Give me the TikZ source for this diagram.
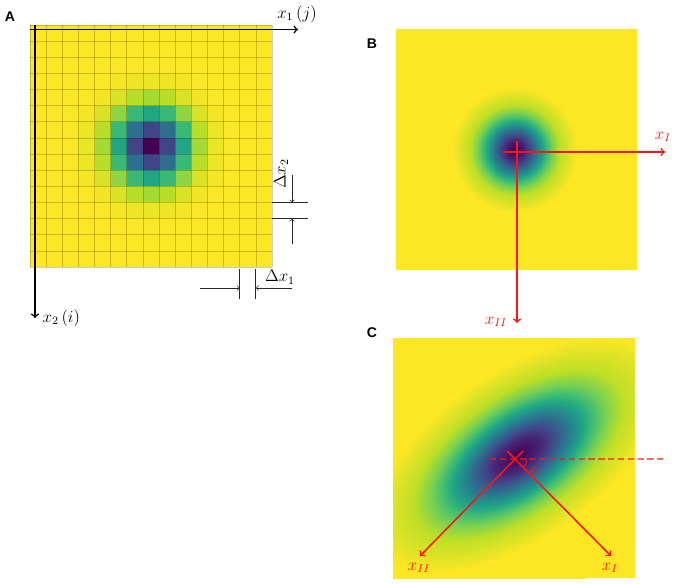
\documentclass[tikz,border=0pt]{standalone}
\usepackage{fontspec}
\usepackage{amsmath}
\usepackage{tikz}
\usetikzlibrary{positioning}
\newfontfamily\panelfont{Liberation Sans}
\definecolor{vir0}{HTML}{440154}
\definecolor{vir1}{HTML}{482475}
\definecolor{vir2}{HTML}{414487}
\definecolor{vir3}{HTML}{355F8D}
\definecolor{vir4}{HTML}{2A788E}
\definecolor{vir5}{HTML}{21918C}
\definecolor{vir6}{HTML}{22A884}
\definecolor{vir7}{HTML}{44BF70}
\definecolor{vir8}{HTML}{7AD151}
\definecolor{vir9}{HTML}{BDDF26}
\definecolor{vir10}{HTML}{FDE725}
\definecolor{axred}{HTML}{FF1414}
\pgfdeclareradialshading{blob}{\pgfpoint{0bp}{0bp}}{color(0bp)=(vir0); color(2.30bp)=(vir1); color(3.34bp)=(vir2); color(4.22bp)=(vir3); color(5.05bp)=(vir4); color(5.89bp)=(vir5); color(6.77bp)=(vir6); color(7.76bp)=(vir7); color(8.97bp)=(vir8); color(10.73bp)=(vir9); color(15bp)=(vir10); color(25bp)=(vir10); color(50bp)=(vir10)}
\tikzstyle{panel} = [font=\panelfont\bfseries, inner sep=0pt]
\tikzstyle{lbl} = [font=\large, inner sep=1pt]
\tikzstyle{redlbl} = [lbl, text=axred]
\tikzstyle{axis} = [->, line width=1.1pt]
\tikzstyle{redaxis} = [->, line width=1.1pt, axred]
\tikzstyle{dim} = [->, line width=0.5pt, black!85]
\tikzstyle{dimline} = [line width=0.5pt, black!85]
\tikzstyle{gridline} = [draw=black, opacity=0.2, line width=0.5pt]

\begin{document}
\begin{tikzpicture}[x=0.25mm, y=-0.25mm, >=to]
	\useasboundingbox (0,0) rectangle (677,583);

	% A: sampled image
	\foreach \i in {0,...,14}{
		\foreach \j in {0,...,14}{
			\pgfmathsetmacro\tv{10*(1-exp(-((\i-7)^2+(\j-7)^2)/4.5))}
			\pgfmathtruncatemacro\lo{min(floor(\tv),9)}
			\pgfmathtruncatemacro\hi{\lo+1}
			\pgfmathtruncatemacro\mix{100-round(100*(\tv-\lo))}
			\fill[vir\lo!\mix!vir\hi] ({30+16.133*\j},{25+16.133*\i}) rectangle +(16.133,16.133);
		}
	}
	\foreach \n in {0,...,15}{
		\draw[gridline] ({30+16.133*\n},25) -- ++(0,242);
		\draw[gridline] (30,{25+16.133*\n}) -- ++(242,0);
	}
	\node[panel] (labA) at (10,17) {A};

	\coordinate (Ah0) at (30,29.5);
	\coordinate (Ah1) at (298,29.5);
	\coordinate (Av0) at (35,25);
	\coordinate (Av1) at (35,318);
	\draw[axis] (Ah0) -- (Ah1);
	\draw[axis] (Av0) -- (Av1);
	\node[lbl] (x1) at (297,14) {$x_1\,(j)$};
	\node[lbl, anchor=west] (x2) at (41,318) {$x_2\,(i)$};

	\coordinate (d2a) at (272,202.5);
	\coordinate (d2b) at (308,202.5);
	\coordinate (d2c) at (272,218.6);
	\coordinate (d2d) at (308,218.6);
	\coordinate (d2top) at (292,175);
	\coordinate (d2bot) at (292,244);
	\draw[dimline] (d2a) -- (d2b);
	\draw[dimline] (d2c) -- (d2d);
	\draw[dim] (d2top) -- (292,202.5);
	\draw[dim] (d2bot) -- (292,218.6);
	\node[lbl, rotate=90] (dx2) at (281,174) {$\Delta x_2$};

	\coordinate (d1a) at (239.7,269);
	\coordinate (d1b) at (239.7,299);
	\coordinate (d1c) at (255.8,269);
	\coordinate (d1d) at (255.8,299);
	\coordinate (d1l) at (200,288);
	\coordinate (d1r) at (292,288);
	\draw[dimline] (d1a) -- (d1b);
	\draw[dimline] (d1c) -- (d1d);
	\draw[dim] (d1l) -- (239.7,288);
	\draw[dim] (d1r) -- (255.8,288);
	\node[lbl] (dx1) at (280,277) {$\Delta x_1$};

	% B: round spot
	\fill[vir10] (396,29) rectangle (637,270);
	\begin{scope}
		\clip (396,29) rectangle (637,270);
		\begin{scope}[transform canvas={shift={(515,150)}, scale=2.1}]
			\shade[shading=blob] (-50,-50) rectangle (50,50);
		\end{scope}
	\end{scope}
	\node[panel] (labB) at (372,44) {B};

	\coordinate (Bh0) at (503,152);
	\coordinate (BxI) at (665,152);
	\coordinate (Bv0) at (517,141);
	\coordinate (BxII) at (517,323);
	\draw[redaxis] (Bh0) -- (BxI);
	\draw[redaxis] (Bv0) -- (BxII);
	\node[redlbl] (BlI) at (663,137) {$x_I$};
	\node[redlbl] (BlII) at (496,322) {$x_{II}$};

	% C: rotated spot
	\fill[vir10] (393,338) rectangle (635,578);
	\begin{scope}
		\clip (393,338) rectangle (635,578);
		\begin{scope}[transform canvas={shift={(518,455)}, rotate=35, xscale=5.6, yscale=1.75}]
			\shade[shading=blob] (-50,-80) rectangle (50,80);
		\end{scope}
	\end{scope}
	\node[panel] (labC) at (372,333) {C};

	\coordinate (Cc) at (515,459);
	\coordinate (Cd1) at (490,459);
	\coordinate (Cd2) at (663,459);
	\coordinate (Ct1) at (507,451);
	\coordinate (CxI) at (611,556);
	\coordinate (Ct2) at (523,451);
	\coordinate (CxII) at (420,556);
	\draw[axred, opacity=0.65, line width=0.8pt, dash pattern=on 4.5pt off 2.5pt] (Cd1) -- (Cd2);
	\draw[redaxis] (Ct1) -- (CxI);
	\draw[redaxis] (Ct2) -- (CxII);
	\draw[axred, line width=0.6pt] (527,459) arc[start angle=0, end angle=45, radius=12];
	\node[redlbl] (alpha) at (536,471) {$\alpha$};
	\node[redlbl] (ClI) at (610,568) {$x_I$};
	\node[redlbl] (ClII) at (419,568) {$x_{II}$};

\end{tikzpicture}
\end{document}
